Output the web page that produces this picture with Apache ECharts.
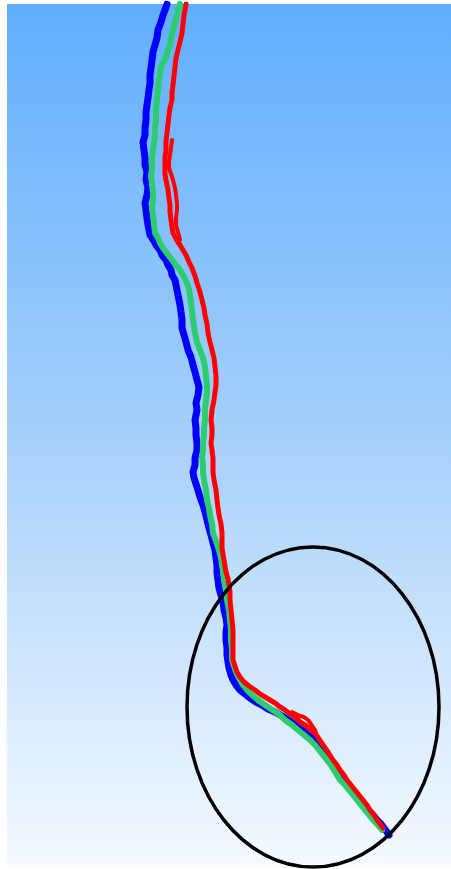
<!DOCTYPE html>
<html>
<head>
<meta charset="utf-8">
<script src="https://cdn.jsdelivr.net/npm/echarts@6/dist/echarts.min.js"></script>
<style>html,body{margin:0;padding:0;background:#fff;}#c{width:451px;height:869px;}</style>
</head>
<body>
<div id="c"></div>
<script>
// Traces: [x, y] pairs in plot units (x rightwards, y downwards)
const blueTrace = [[167,4],[165,10],[163,15],[161,22],[158,30],[157,38],[155,45],[153,52],[152,60],[151,68],[150,75],[150,83],[149,90],[148,98],[147,105],[146,112],[146,120],[145,128],[145,135],[143,142],[144,150],[145,158],[145,165],[147,172],[146,180],[148,188],[147,195],[145,203],[146,210],[147,218],[148,225],[150,235],[154,241],[156,245],[160,250],[162,255],[166,260],[168,265],[171,270],[172,275],[175,280],[176,285],[178,295],[179,300],[180,305],[181,312],[182,320],[182,328],[184,335],[186,342],[188,350],[191,357],[193,365],[195,372],[197,380],[199,387],[198,395],[196,403],[197,410],[195,420],[196,428],[196,435],[197,443],[197,450],[195,458],[195,465],[193,472],[194,478],[196,484],[198,490],[200,497],[203,505],[205,512],[207,520],[209,528],[211,535],[213,543],[215,550],[216,558],[217,565],[217,573],[218,580],[219,588],[221,595],[223,602],[224,610],[226,618],[227,625],[226,632],[226,640],[227,648],[227,655],[228,662],[229,668],[231,675],[233,680],[236,685],[240,690],[245,694],[250,698],[256,702],[262,705],[268,709],[275,712],[282,716],[288,720],[294,724],[299,728],[304,731],[308,735],[313,739],[317,743],[320,748],[322,752],[325,756],[328,760],[332,765],[335,770],[339,775],[343,780],[347,785],[351,790],[356,795],[360,800],[364,805],[368,810],[373,815],[377,820],[381,824],[384,828],[387,832],[389,835]];
const greenTrace = [[180,4],[178,10],[177,15],[175,22],[173,30],[171,38],[170,45],[168,50],[167,55],[164,61],[161,67],[160,73],[159,80],[158,90],[157,100],[156,110],[156,120],[155,128],[155,135],[154,143],[153,150],[152,158],[152,167],[151,176],[152,185],[153,192],[153,200],[152,208],[153,215],[154,224],[155,233],[158,238],[160,243],[163,248],[166,252],[169,256],[172,260],[176,265],[180,270],[184,277],[187,283],[189,289],[190,295],[191,302],[192,310],[193,320],[195,333],[197,342],[200,350],[203,358],[205,367],[206,376],[207,385],[207,392],[206,400],[205,410],[205,420],[204,428],[204,435],[203,443],[203,450],[202,458],[203,465],[203,472],[204,480],[206,490],[207,500],[209,508],[210,515],[212,524],[213,533],[216,541],[219,550],[221,558],[222,565],[223,572],[224,580],[226,590],[227,600],[229,610],[230,620],[231,630],[231,640],[232,650],[232,660],[234,666],[236,672],[239,678],[243,685],[247,690],[252,695],[258,700],[265,705],[271,709],[277,713],[281,716],[285,720],[292,725],[298,730],[304,735],[310,740],[315,745],[319,750],[323,755],[327,760],[331,765],[334,770],[337,775],[340,780],[345,785],[349,790],[353,795],[357,800],[361,805],[365,810],[369,815],[373,820],[378,825],[382,830]];
const redTrace = [[186,4],[185,10],[184,15],[183,24],[182,33],[180,42],[178,50],[176,58],[175,67],[174,76],[173,85],[172,93],[172,100],[170,108],[169,115],[168,124],[167,133],[166,141],[166,150],[165,158],[165,167],[165,174],[166,180],[167,185],[168,190],[169,198],[170,205],[170,212],[171,220],[172,227],[173,233],[176,239],[180,245],[183,250],[186,255],[189,262],[192,268],[195,276],[197,283],[200,292],[202,300],[204,308],[205,315],[207,324],[208,333],[210,342],[212,350],[214,358],[215,367],[216,376],[216,385],[215,392],[214,400],[212,410],[211,420],[212,428],[212,435],[211,443],[212,450],[213,458],[213,465],[213,472],[214,480],[216,490],[217,500],[218,508],[219,515],[221,524],[222,533],[222,541],[222,548],[223,554],[224,560],[225,566],[226,572],[228,579],[229,585],[230,592],[230,600],[231,610],[232,620],[233,630],[233,640],[233,650],[233,660],[235,666],[237,672],[240,677],[244,682],[249,686],[255,690],[260,694],[265,697],[270,700],[275,703],[280,707],[285,710],[290,714],[296,718],[300,722],[305,725],[310,729],[315,733],[319,739],[323,745],[328,752],[333,760],[337,765],[340,770],[344,775],[347,780],[351,785],[355,790],[359,795],[363,800],[367,805],[370,810],[374,815],[377,820],[380,824],[383,828]];
const redStrandUpper = [[172,140],[171,148],[170,155],[169,162],[169,168],[171,174],[173,180],[175,188],[176,195],[177,203],[177,210],[176,218],[176,225],[178,232],[180,240]];
const redStrandLower = [[292,712],[296,714],[300,716],[304,717],[308,720],[311,724],[313,727],[315,730],[316,733]];
// Annotation ellipse: center and radii in plot units
const ellipseCenter = [313, 707];
const ellipseRadii = [126, 160];

const chart = echarts.init(document.getElementById('c'));
const lineSeries = (data, color, width) => ({
  type: 'line', data: data, showSymbol: false, symbol: 'none', smooth: false,
  lineStyle: { color: color, width: width, join: 'round', cap: 'round' },
  animation: false, silent: true
});
chart.setOption({
  animation: false,
  backgroundColor: '#ffffff',
  grid: {
    left: 7, top: 4, right: 0, bottom: 3, show: true, borderWidth: 0,
    backgroundColor: new echarts.graphic.LinearGradient(0, 0, 0, 1, [
      { offset: 0, color: '#61aefe' },
      { offset: 0.5, color: '#a6d0fb' },
      { offset: 1, color: '#f5faff' }
    ])
  },
  xAxis: { type: 'value', min: 7, max: 451, show: false },
  yAxis: { type: 'value', min: 4, max: 866, inverse: true, show: false },
  series: [
    lineSeries(blueTrace, '#0000ff', 7),
    lineSeries(greenTrace, '#2ecc71', 6),
    lineSeries(redTrace, '#ff0000', 5),
    lineSeries(redStrandUpper, '#ff0000', 4),
    lineSeries(redStrandLower, '#ff0000', 4)
  ]
});
const c = chart.convertToPixel({ gridIndex: 0 }, ellipseCenter);
const e = chart.convertToPixel({ gridIndex: 0 }, [ellipseCenter[0] + ellipseRadii[0], ellipseCenter[1] + ellipseRadii[1]]);
chart.setOption({
  graphic: [{
    type: 'ellipse', z: 100, silent: true,
    shape: { cx: c[0], cy: c[1], rx: Math.abs(e[0] - c[0]), ry: Math.abs(e[1] - c[1]) },
    style: { fill: 'none', stroke: '#000000', lineWidth: 3.5 }
  }]
});
</script>
</body>
</html>
